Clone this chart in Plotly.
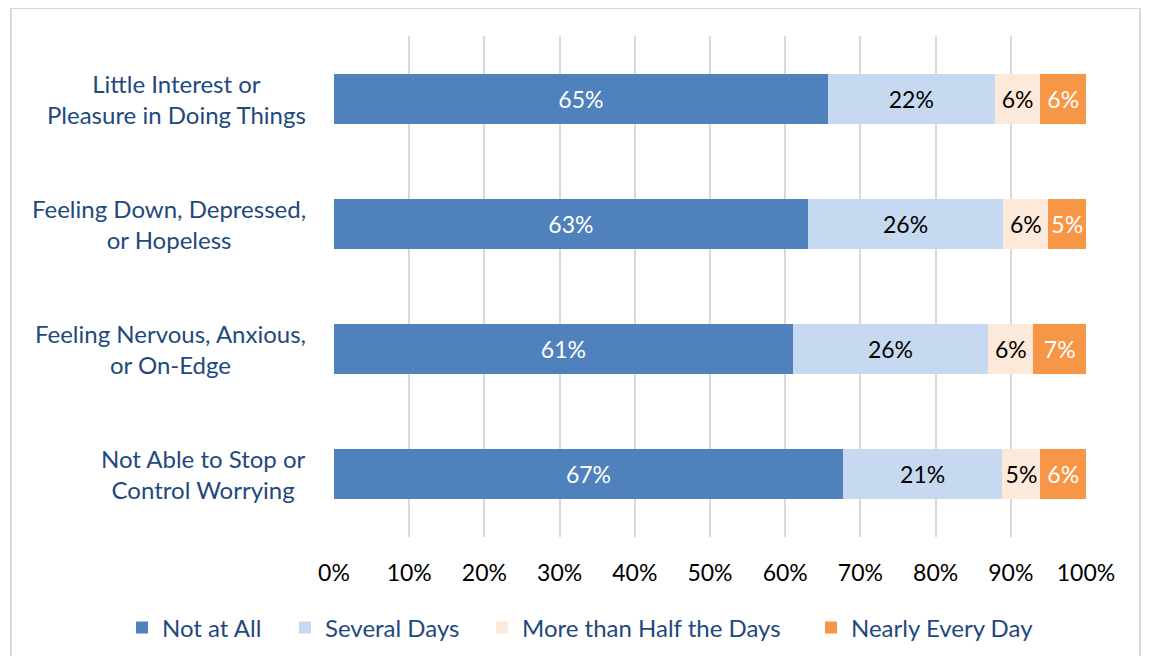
import plotly.graph_objects as go

categories = ["Little Interest or<br>Pleasure in Doing Things",
              "Feeling Down, Depressed,<br>or Hopeless",
              "Feeling Nervous, Anxious,<br>or On-Edge",
              "Not Able to Stop or<br>Control Worrying"]
series_names = ["Not at All", "Several Days", "More than Half the Days", "Nearly Every Day"]
not_at_all = [65, 63, 61, 67]
several_days = [22, 26, 26, 21]
more_than_half = [6, 6, 6, 5]
nearly_every_day = [6, 5, 7, 6]
tick_vals = [0, 10, 20, 30, 40, 50, 60, 70, 80, 90, 100]
tick_text = ["0%", "10%", "20%", "30%", "40%", "50%", "60%", "70%", "80%", "90%", "100%"]

colors = ["#4F81BD", "#C6D9F1", "#FDE9D9", "#F79646"]
text_colors = ["white", "#000000", "#000000", "white"]
FONT = "Lato, Calibri, Carlito, sans-serif"

W, H = 1133, 648
L, T, R, B = 326, 28, 55, 119
PW, PH = W - L - R, H - T - B
legend_left_px = [114, 277, 474, 803]
legend_ids = ["legend", "legend2", "legend3", "legend4"]

fig = go.Figure()
for i, (name, vals, col, tcol) in enumerate(zip(series_names,
                                 [not_at_all, several_days, more_than_half, nearly_every_day],
                                 colors, text_colors)):
    fig.add_trace(go.Bar(
        y=categories, x=vals, name=name, orientation="h", legend=legend_ids[i],
        marker=dict(color=col, line=dict(width=0)),
        text=[f"{v}%" for v in vals], textposition="inside",
        insidetextanchor="middle", textangle=0,
        textfont=dict(color=tcol, size=23, family=FONT),
        width=0.4, hoverinfo="skip"))

for c in categories:
    fig.add_annotation(x=(300 - L) / PW, xref="paper", y=c, yref="y", text=c,
                       showarrow=False, xanchor="right", align="center",
                       font=dict(size=24, color="#1F497D", family=FONT))

legend_common = dict(orientation="h", xanchor="left", xref="paper",
                     y=(H - T - B - (620 - T)) / PH, yanchor="middle",
                     bgcolor="rgba(0,0,0,0)",
                     font=dict(size=24, color="#1F497D", family=FONT))

fig.update_layout(
    barmode="stack", barnorm="percent",
    width=W, height=H,
    margin=dict(l=L, r=R, t=T, b=B, autoexpand=False),
    paper_bgcolor="white", plot_bgcolor="white",
    font=dict(family=FONT),
    uniformtext=dict(minsize=23, mode="show"),
    xaxis=dict(range=[0, 100], tickmode="array", tickvals=tick_vals, ticktext=tick_text,
               showgrid=True, gridcolor="#D9D9D9", gridwidth=1.5,
               zeroline=False, showline=False, ticks="",
               tickfont=dict(size=23, color="#000000", family=FONT),
               ticklabelstandoff=20, fixedrange=True),
    yaxis=dict(autorange="reversed", showticklabels=False, showgrid=False,
               zeroline=False, showline=False),
    showlegend=True,
)
for lid, lx in zip(legend_ids, legend_left_px):
    fig.update_layout({lid: dict(x=(lx - L) / PW, **legend_common)})

fig.add_shape(type="rect", xref="paper", yref="paper",
              x0=(3 - L) / PW, x1=(1132 - L) / PW,
              y0=(PH + T - 660) / PH, y1=(PH + T - 0) / PH,
              line=dict(color="#D9D9D9", width=2), fillcolor="rgba(0,0,0,0)",
              layer="below")

fig.write_html("out.html")
